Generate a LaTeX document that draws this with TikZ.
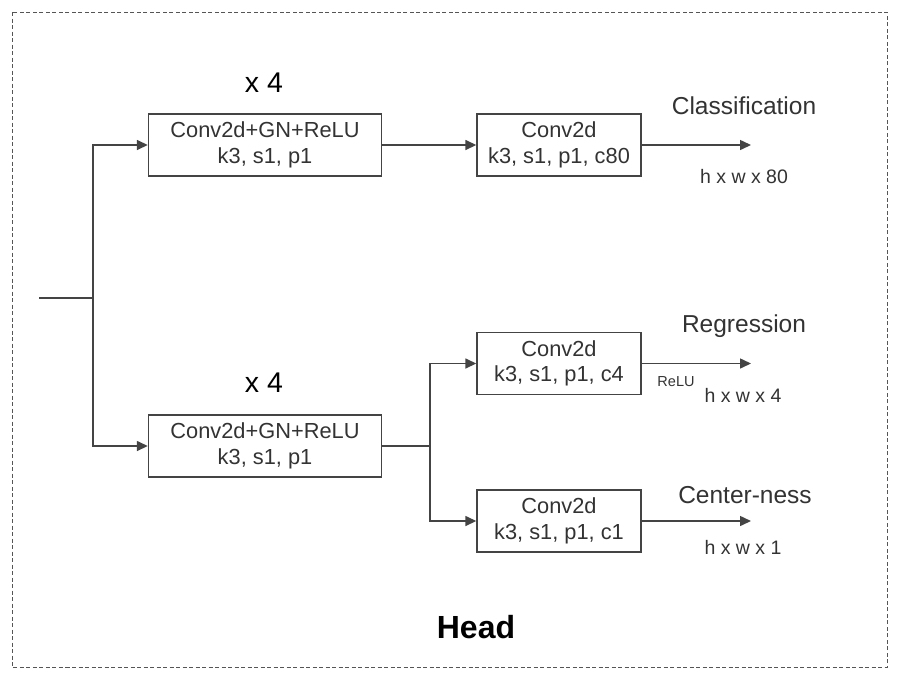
\documentclass[tikz,border=0pt]{standalone}
\usepackage{fontspec}
\setmainfont{Liberation Sans}
\usetikzlibrary{arrows.meta}
\definecolor{ink}{HTML}{333333}
\definecolor{linec}{HTML}{444444}
\definecolor{frame}{HTML}{555555}
\tikzset{
  blk/.style={draw=linec, line width=1.4pt, fill=white, text=ink, align=center,
    inner sep=0pt, font=\fontsize{21.8}{25.5}\selectfont},
  wire/.style={draw=linec, line width=1.5pt},
  arr/.style={wire, -{Triangle[length=11pt,width=10pt]}},
  outlbl/.style={text=ink, font=\fontsize{24.5}{28}\selectfont, inner sep=0pt},
  dimlbl/.style={text=ink, font=\fontsize{19.5}{22}\selectfont, inner sep=0pt},
  rep/.style={text=black, font=\fontsize{28.5}{32}\selectfont, inner sep=0pt},
}
\begin{document}
\begin{tikzpicture}[x=1pt,y=-1pt]
\useasboundingbox (0,0) rectangle (912,694);
\draw[frame, line width=1pt, dash pattern=on 4pt off 2.5pt] (12,12) rectangle (887,667);

\node[blk, minimum width=233pt, minimum height=62pt] (conv1) at (265,145) {Conv2d+GN+ReLU\\k3, s1, p1};
\node[blk, minimum width=164pt, minimum height=62pt] (cls) at (559,145) {Conv2d\\k3, s1, p1, c80};
\node[blk, minimum width=233pt, minimum height=62pt] (conv2) at (265,446) {Conv2d+GN+ReLU\\k3, s1, p1};
\node[blk, minimum width=164pt, minimum height=62pt] (reg) at (559,363.5) {Conv2d\\k3, s1, p1, c4};
\node[blk, minimum width=164pt, minimum height=62pt] (ctr) at (559,521) {Conv2d\\k3, s1, p1, c1};

\node[rep] (rep1) at (264,83) {x 4};
\node[rep] (rep2) at (264,383) {x 4};

\coordinate (in) at (39,298);
\coordinate (split) at (93,298);
\coordinate (branch) at (430,446);
\coordinate (o1) at (751,145);
\coordinate (o2) at (751,363.5);
\coordinate (o3) at (751,521);

\draw[wire] (in) -- (split);
\draw[arr] (split) |- (conv1.west);
\draw[arr] (split) |- (conv2.west);
\draw[arr] (conv1.east) -- (cls.west);
\draw[wire] (conv2.east) -- (branch);
\draw[arr] (branch) |- (reg.west);
\draw[arr] (branch) |- (ctr.west);
\draw[arr] (cls.east) -- (o1);
\draw[arr] (reg.east) -- (o2);
\draw[arr] (ctr.east) -- (o3);

\node[outlbl] (lcls) at (744,106) {Classification};
\node[dimlbl] (dcls) at (744,177) {h x w x 80};
\node[outlbl] (lreg) at (744,326) {Regression};
\node[text=ink, font=\fontsize{14.5}{16}\selectfont, inner sep=0pt] (relu) at (676,382) {ReLU};
\node[dimlbl] (dreg) at (743,395) {h x w x 4};
\node[outlbl] (lctr) at (745,495) {Center-ness};
\node[dimlbl] (dctr) at (743,547) {h x w x 1};

\node[text=black, font=\fontsize{32}{38}\selectfont\bfseries, inner sep=0pt] (head) at (476,627) {Head};
\end{tikzpicture}
\end{document}
